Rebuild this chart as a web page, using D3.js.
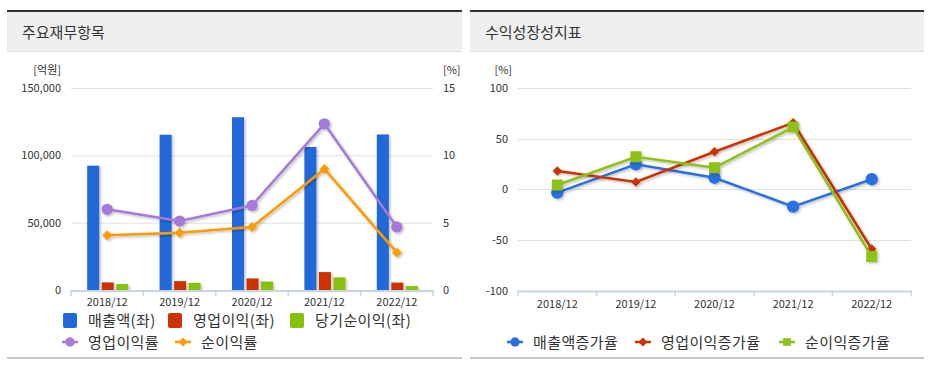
<!DOCTYPE html>
<html><head><meta charset="utf-8">
<script src="https://cdn.jsdelivr.net/npm/d3@7"></script>
<style>
html,body{margin:0;padding:0;background:#fff;}
svg{display:block;font-family:"Noto Sans CJK KR","Noto Sans",sans-serif;}
</style></head>
<body>
<svg id="c" width="931" height="365"></svg>
<script>
// ---- data ----
const categories = ["2018/12","2019/12","2020/12","2021/12","2022/12"];
const sales = [92300, 115300, 128300, 106200, 115500];
const opProfit = [5600, 6600, 8600, 13300, 5500];
const netProfit = [4400, 5300, 6300, 9400, 3000];
const opMargin = [5.99, 5.12, 6.28, 12.34, 4.68];
const netMargin = [4.07, 4.26, 4.68, 8.99, 2.78];
const leftTicks = [0, 50000, 100000, 150000];
const rightTicks = [0, 5, 10, 15];
const salesGrowth = [-3.3, 24.6, 11.4, -17.1, 9.9];
const opGrowth = [18.0, 7.2, 37.0, 65.6, -59.0];
const netGrowth = [4.2, 32.1, 21.3, 61.4, -66.4];
const growthTicks = [-100, -50, 0, 50, 100];

const C = {blue:"#2068d8", red:"#cc3300", green:"#88c10c", purple:"#a57ad8", orange:"#ff9a00",
  lblue:"#2a6fe0", lred:"#cc3300", lgreen:"#8cc118", text:"#333", grid:"#e0e0e0", axis:"#c9d5e3"};

const svg = d3.select("#c");
const defs = svg.append("defs");
const f = defs.append("filter").attr("id","sh").attr("x","-20%").attr("y","-20%").attr("width","160%").attr("height","160%");
f.append("feDropShadow").attr("dx",1.5).attr("dy",1.5).attr("stdDeviation",1).attr("flood-color","#000").attr("flood-opacity",0.25);

function panel(x0, w, title){
  const g = svg.append("g");
  g.append("rect").attr("x",x0).attr("y",12).attr("width",w).attr("height",40).attr("fill","#efefef");
  g.append("rect").attr("x",x0).attr("y",10).attr("width",w).attr("height",2).attr("fill","#333");
  g.append("rect").attr("x",x0).attr("y",51).attr("width",w).attr("height",1).attr("fill","#dcdcdc");
  g.append("rect").attr("x",x0).attr("y",357).attr("width",w).attr("height",2).attr("fill","#c8c8c8");
  g.append("text").attr("x",x0+15).attr("y",38).attr("font-size",15).attr("fill",C.text).text(title);
}
panel(7, 455, "주요재무항목");
panel(470, 454, "수익성장성지표");

// symbol helper: diamond = rotated square
function sym(shape, size){
  if (shape === "diamond") return {d: d3.symbol().type(d3.symbolSquare).size(size)(), rot: 45};
  return {d: d3.symbol().type(shape).size(size)(), rot: 0};
}

// ---- Left chart ----
const L = svg.append("g");
const x = d3.scaleBand().domain(categories).range([71, 433]);
const yL = d3.scaleLinear().domain([0,150000]).range([290,88]);
const yR = d3.scaleLinear().domain([0,15]).range([290,88]);

L.selectAll(".g").data(leftTicks.filter(d=>d>0)).join("line")
  .attr("x1",71).attr("x2",433).attr("y1",d=>yL(d)+0.5).attr("y2",d=>yL(d)+0.5)
  .attr("stroke",C.grid).attr("stroke-width",1);
const fmt = d3.format(",");
L.append("g").selectAll("text").data(leftTicks).join("text")
  .attr("x",61).attr("y",d=>yL(d)+4).attr("text-anchor","end").attr("font-size",11).attr("fill",C.text).text(d=>fmt(d));
L.append("g").selectAll("text").data(rightTicks).join("text")
  .attr("x",443).attr("y",d=>yR(d)+4).attr("font-size",11).attr("fill",C.text).text(d=>d);
L.append("text").attr("x",61).attr("y",74).attr("text-anchor","end").attr("font-size",11).attr("fill",C.text).text("[억원]");
L.append("text").attr("x",443).attr("y",74).attr("font-size",11).attr("fill",C.text).text("[%]");

// bars
const inner = d3.scaleBand().domain([0,1,2]).range([-20, 22]).paddingInner(0.1);
const barSeries = [sales, opProfit, netProfit];
const barColors = [C.blue, C.red, C.green];
barSeries.forEach((s,i)=>{
  L.append("g").attr("filter","url(#sh)").selectAll("rect").data(s).join("rect")
    .attr("x",(d,j)=>x(categories[j])+x.bandwidth()/2+inner(i))
    .attr("width",inner.bandwidth()-1)
    .attr("y",d=>yL(d)).attr("height",d=>yL(0)-yL(d)).attr("fill",barColors[i]);
});
// x axis
const xa = L.append("g").attr("transform","translate(0,"+(yL(0)+0.5)+")")
  .call(d3.axisBottom(x).tickSize(0).tickPadding(8));
xa.select(".domain").attr("stroke",C.axis).attr("stroke-width",2);
xa.selectAll("text").attr("font-size",11).attr("fill",C.text).attr("font-family","'Noto Sans CJK KR',sans-serif");
const tickXs = categories.map(c=>x(c)).concat([x.range()[1]]);
L.append("g").selectAll("line").data(tickXs).join("line")
  .attr("x1",d=>d).attr("x2",d=>d).attr("y1",yL(0)).attr("y2",yL(0)+6).attr("stroke",C.axis).attr("stroke-width",1.5);

const cx = c=>x(c)+x.bandwidth()/2;
const line = d3.line();
function series(g, vals, xf, yf, color, shape, size, width){
  const pts = vals.map((v,i)=>[xf(categories[i]), yf(v)]);
  const gg = g.append("g").attr("filter","url(#sh)");
  gg.append("path").attr("d",line(pts)).attr("fill","none").attr("stroke",color).attr("stroke-width",width);
  const s = sym(shape, size);
  gg.selectAll("path.m").data(pts).join("path").attr("class","m")
    .attr("transform",d=>"translate("+d[0]+","+d[1]+") rotate("+s.rot+")")
    .attr("d",s.d).attr("fill",color);
}
series(L, opMargin, cx, yR, C.purple, d3.symbolCircle, 100, 2.5);
series(L, netMargin, cx, yR, C.orange, "diamond", 50, 2.5);

// left legend
const lg = svg.append("g").attr("font-size",15).attr("letter-spacing","0.4px").attr("fill",C.text);
const leg1 = [["매출액(좌)",C.blue,63],["영업이익(좌)",C.red,168],["당기순이익(좌)",C.green,290]];
leg1.forEach(([t,c,lx])=>{
  lg.append("rect").attr("x",lx).attr("y",313).attr("width",14).attr("height",15).attr("rx",2).attr("fill",c);
  lg.append("text").attr("x",lx+25).attr("y",326).attr("fill",C.text).text(t);
});
function lineLegend(g, lx, ly, c, shape, size, t){
  g.append("line").attr("x1",lx).attr("x2",lx+16).attr("y1",ly).attr("y2",ly).attr("stroke",c).attr("stroke-width",2.5);
  const s = sym(shape, size);
  g.append("path").attr("transform","translate("+(lx+8)+","+ly+") rotate("+s.rot+")").attr("d",s.d).attr("fill",c);
  g.append("text").attr("x",lx+26).attr("y",ly+6).attr("fill",C.text).text(t);
}
lineLegend(lg, 62, 342, C.purple, d3.symbolCircle, 70, "영업이익률");
lineLegend(lg, 175, 342, C.orange, "diamond", 40, "순이익률");

// ---- Right chart ----
const R = svg.append("g");
const x2 = d3.scaleBand().domain(categories).range([518, 911]);
const y2 = d3.scaleLinear().domain([-100,100]).range([290.5,88]);
R.selectAll(".g").data(growthTicks.filter(d=>d>-100)).join("line")
  .attr("x1",518).attr("x2",911).attr("y1",d=>Math.round(y2(d))+0.5).attr("y2",d=>Math.round(y2(d))+0.5)
  .attr("stroke",C.grid).attr("stroke-width",1);
R.append("g").selectAll("text").data(growthTicks).join("text")
  .attr("x",508).attr("y",d=>y2(d)+4).attr("text-anchor","end").attr("font-size",11).attr("fill",C.text).text(d=>d);
R.append("text").attr("x",512).attr("y",74).attr("text-anchor","end").attr("font-size",11).attr("fill",C.text).text("[%]");
const xa2 = R.append("g").attr("transform","translate(0,"+(y2(-100)+0.5)+")")
  .call(d3.axisBottom(x2).tickSize(0).tickPadding(9));
xa2.select(".domain").attr("stroke",C.axis).attr("stroke-width",2);
xa2.selectAll("text").attr("font-size",11).attr("fill",C.text).attr("font-family","'Noto Sans CJK KR',sans-serif");
const tickXs2 = categories.map(c=>x2(c)).concat([x2.range()[1]]);
R.append("g").selectAll("line").data(tickXs2).join("line")
  .attr("x1",d=>d).attr("x2",d=>d).attr("y1",y2(-100)).attr("y2",y2(-100)+6).attr("stroke",C.axis).attr("stroke-width",1.5);
const cx2 = c=>x2(c)+x2.bandwidth()/2;
series(R, salesGrowth, cx2, y2, C.lblue, d3.symbolCircle, 120, 2.5);
series(R, opGrowth, cx2, y2, C.lred, "diamond", 45, 2.5);
series(R, netGrowth, cx2, y2, C.lgreen, d3.symbolSquare, 120, 2.5);

const rg = svg.append("g").attr("font-size",15).attr("letter-spacing","0.4px").attr("fill",C.text);
lineLegend(rg, 507, 342, C.lblue, d3.symbolCircle, 70, "매출액증가율");
lineLegend(rg, 635, 342, C.lred, "diamond", 40, "영업이익증가율");
lineLegend(rg, 779, 342, C.lgreen, d3.symbolSquare, 60, "순이익증가율");
</script>
</body></html>
